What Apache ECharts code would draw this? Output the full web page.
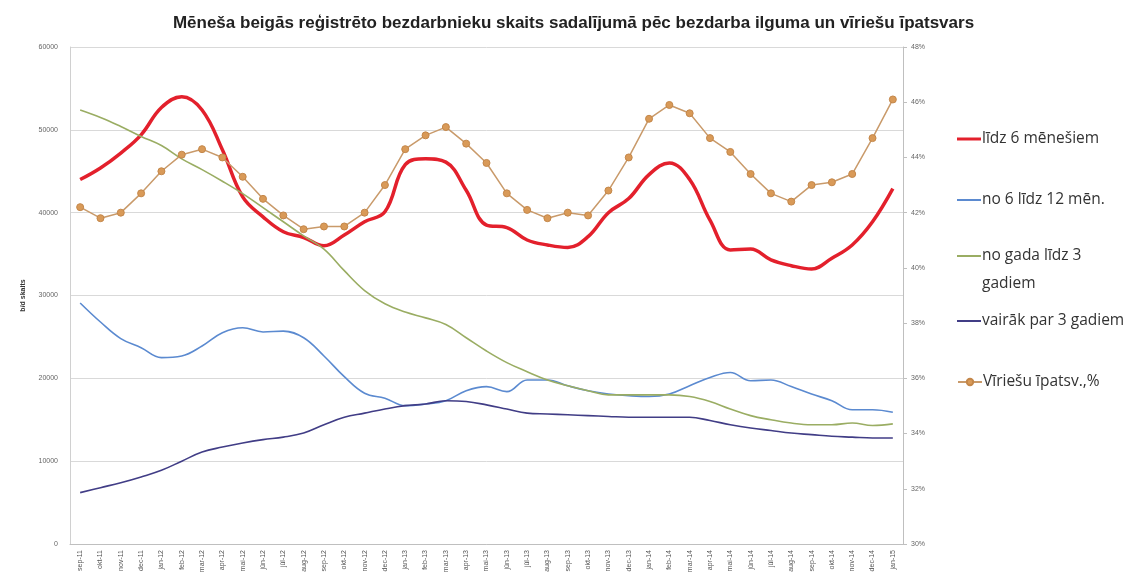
<!DOCTYPE html>
<html>
<head>
    <meta charset="utf-8">
    <title>Bezdarbnieku skaits</title>
    <script src="https://cdn.jsdelivr.net/npm/echarts@6/dist/echarts.min.js"></script>
    <style>
        html, body { margin: 0; padding: 0; background: #fff; }
        #main { width: 1147px; height: 580px; }
    </style>
</head>
<body>
<div id="main"></div>
<script type="text/javascript">
    // mēneši: sep-11 .. jan-15
    var months = ['sep-11', 'okt-11', 'nov-11', 'dec-11',
        'jan-12', 'feb-12', 'mar-12', 'apr-12', 'mai-12', 'jūn-12', 'jūl-12', 'aug-12', 'sep-12', 'okt-12', 'nov-12', 'dec-12',
        'jan-13', 'feb-13', 'mar-13', 'apr-13', 'mai-13', 'jūn-13', 'jūl-13', 'aug-13', 'sep-13', 'okt-13', 'nov-13', 'dec-13',
        'jan-14', 'feb-14', 'mar-14', 'apr-14', 'mai-14', 'jūn-14', 'jūl-14', 'aug-14', 'sep-14', 'okt-14', 'nov-14', 'dec-14',
        'jan-15'];

    var lidz6 = [44000, 45400, 47200, 49400, 52700, 54000, 52400, 47600, 41900, 39500, 37700, 37000, 36000, 37300,
        38900, 40100, 45800, 46500, 46100, 42700, 38500, 38200, 36700, 36100, 35800, 37100, 40000, 41700,
        44600, 46000, 44000, 39100, 35500, 35600, 34300, 33600, 33200, 34500, 36100, 38900, 42900];

    var no6lidz12 = [29100, 26800, 24800, 23700, 22500, 22700, 23900, 25500, 26100, 25600, 25700, 24900, 22700, 20200,
        18200, 17600, 16700, 16900, 17300, 18500, 19000, 18400, 19800, 19800, 19100, 18500, 18100, 17900,
        17800, 18100, 19100, 20100, 20700, 19700, 19800, 19000, 18100, 17300, 16200, 16200, 15900];

    var gadaLidz3 = [52400, 51500, 50400, 49200, 48100, 46500, 45200, 43800, 42300, 40600, 38900, 37200, 35600, 33000,
        30600, 29000, 28000, 27300, 26500, 24900, 23300, 21900, 20800, 19800, 19100, 18500, 18000, 18000,
        18000, 18000, 17800, 17200, 16300, 15500, 15000, 14600, 14400, 14400, 14600, 14300, 14500];

    var virs3 = [6200, 6800, 7400, 8100, 8900, 10000, 11100, 11700, 12200, 12600, 12900, 13400, 14400, 15300,
        15800, 16300, 16700, 16900, 17300, 17200, 16800, 16300, 15800, 15700, 15600, 15500, 15400, 15300,
        15300, 15300, 15300, 14900, 14400, 14000, 13700, 13400, 13200, 13000, 12900, 12800, 12800];

    var viriesuPct = [42.2, 41.8, 42.0, 42.7, 43.5, 44.1, 44.3, 44.0, 43.3, 42.5, 41.9, 41.4, 41.5, 41.5,
        42.0, 43.0, 44.3, 44.8, 45.1, 44.5, 43.8, 42.7, 42.1, 41.8, 42.0, 41.9, 42.8, 44.0,
        45.4, 45.9, 45.6, 44.7, 44.2, 43.4, 42.7, 42.4, 43.0, 43.1, 43.4, 44.7, 46.1];

    var myChart = echarts.init(document.getElementById('main'));

    // viena leģendas rinda katrai sērijai, lai varētu novietot kā oriģinālā
    function legendItem(name, top, extra) {
        var l = {
            orient: 'vertical',
            left: 957,
            top: top,
            padding: 0,
            itemWidth: 24,
            itemHeight: 3,
            textStyle: { fontFamily: 'Open Sans', fontSize: 15.5, color: '#333', padding: [0, 0, 0, -4] },
            data: [name]
        };
        return Object.assign(l, extra || {});
    }

    var option = {
        backgroundColor: '#fff',
        animation: false,
        title: {
            text: 'Mēneša beigās reģistrēto bezdarbnieku skaits sadalījumā pēc bezdarba ilguma un vīriešu īpatsvars',
            left: 'center',
            top: 10,
            textStyle: {
                fontFamily: 'Liberation Sans',
                fontSize: 17,
                fontWeight: 'bold',
                color: '#222'
            }
        },
        legend: [
            legendItem({ name: 'līdz 6 mēnešiem', icon: 'rect' }, 131, { itemHeight: 3 }),
            legendItem({ name: 'no 6 līdz 12 mēn.', icon: 'rect' }, 192, { itemHeight: 2 }),
            legendItem({ name: 'no gada līdz 3 gadiem', icon: 'rect' }, 220, {
                itemHeight: 2,
                formatter: function () { return '{s| }\n{a|no gada līdz 3}\n{a|gadiem}'; },
                textStyle: {
                    padding: [0, 0, 0, -4],
                    rich: {
                        s: { fontSize: 15.5, lineHeight: 28 },
                        a: { fontFamily: 'Open Sans', fontSize: 15.5, color: '#333', lineHeight: 28 }
                    }
                }
            }),
            legendItem({ name: 'vairāk par 3 gadiem', icon: 'rect' }, 313, { itemHeight: 2 }),
            legendItem({ name: 'Vīriešu īpatsv.,%' }, 374, { itemHeight: 8 })
        ],
        grid: { left: 70, right: 244, top: 47, bottom: 36 },
        xAxis: {
            type: 'category',
            data: months,
            boundaryGap: true,
            axisLine: { lineStyle: { color: '#bfbfbf' } },
            axisTick: { show: false },
            axisLabel: { rotate: 90, fontSize: 7, color: '#555', interval: 0, margin: 6 }
        },
        yAxis: [
            {
                type: 'value',
                min: 0, max: 60000, interval: 10000,
                name: 'b/d skaits',
                nameLocation: 'middle',
                nameGap: 43,
                nameTextStyle: { fontSize: 7, fontWeight: 'bold', color: '#333' },
                axisLine: { show: true, lineStyle: { color: '#d0d0d0' } },
                axisTick: { show: false },
                axisLabel: { fontSize: 7, color: '#666', margin: 12, formatter: function (v) { return String(v); } },
                splitLine: { lineStyle: { color: '#d9d9d9' } }
            },
            {
                type: 'value',
                min: 30, max: 48, interval: 2,
                axisLine: { show: true, lineStyle: { color: '#bfbfbf' } },
                axisTick: { show: true, length: 4, lineStyle: { color: '#bfbfbf' } },
                axisLabel: { fontSize: 7, color: '#666', margin: 8, formatter: '{value}%' },
                splitLine: { show: false }
            }
        ],
        series: [
            {
                name: 'līdz 6 mēnešiem', type: 'line', data: lidz6, smooth: 0.4,
                showSymbol: false, color: '#e3202c', lineStyle: { width: 3.5, color: '#e3202c' }
            },
            {
                name: 'no 6 līdz 12 mēn.', type: 'line', data: no6lidz12, smooth: 0.4,
                showSymbol: false, color: '#5b8ad0', lineStyle: { width: 1.6, color: '#5b8ad0' }
            },
            {
                name: 'no gada līdz 3 gadiem', type: 'line', data: gadaLidz3, smooth: 0.4,
                showSymbol: false, color: '#9aad63', lineStyle: { width: 1.6, color: '#9aad63' }
            },
            {
                name: 'vairāk par 3 gadiem', type: 'line', data: virs3, smooth: 0.4,
                showSymbol: false, color: '#413d86', lineStyle: { width: 1.6, color: '#413d86' }
            },
            {
                name: 'Vīriešu īpatsv.,%', type: 'line', data: viriesuPct, yAxisIndex: 1,
                symbol: 'circle', symbolSize: 7, color: '#e2a25e',
                itemStyle: { color: '#d99a58', borderColor: '#c4874a', borderWidth: 1 },
                lineStyle: { width: 1.5, color: '#c99a6a' }
            }
        ]
    };

    myChart.setOption(option);
</script>
</body>
</html>
